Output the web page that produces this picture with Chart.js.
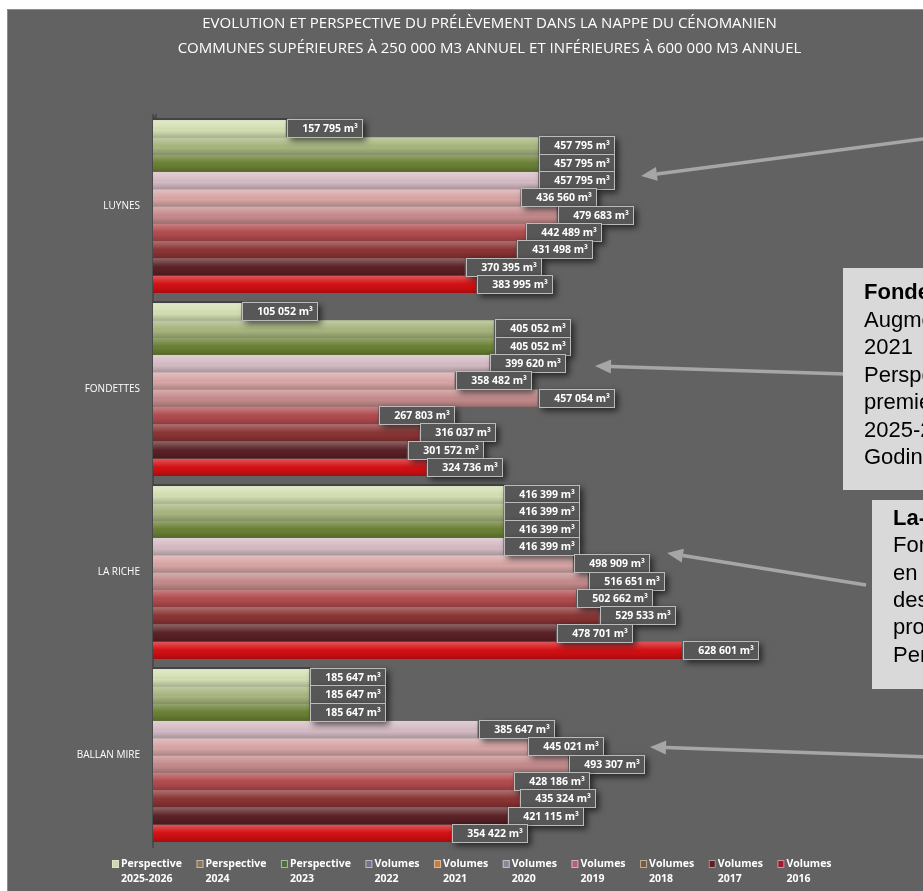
<!DOCTYPE html>
<html><head><meta charset="utf-8">
<script src="https://cdn.jsdelivr.net/npm/chart.js@4.4.1/dist/chart.umd.min.js"></script>
<style>html,body{margin:0;padding:0;background:#fff;overflow:hidden}#wrap{position:relative;width:923px;height:891px}</style>
</head><body><div id="wrap"><canvas id="c"></canvas></div>
<script>
// ---------- DATA ----------
const titleLines = ['EVOLUTION ET PERSPECTIVE DU PRÉLÈVEMENT DANS LA NAPPE DU CÉNOMANIEN',
                    'COMMUNES SUPÉRIEURES À 250 000 M3 ANNUEL ET INFÉRIEURES À 600 000 M3 ANNUEL'];
const communes = ['LUYNES', 'FONDETTES', 'LA RICHE', 'BALLAN MIRE'];
const seriesNames = [['Perspective','2025-2026'],['Perspective','2024'],['Perspective','2023'],
                     ['Volumes','2022'],['Volumes','2021'],['Volumes','2020'],['Volumes','2019'],
                     ['Volumes','2018'],['Volumes','2017'],['Volumes','2016']];
const perspective2025_2026 = [157795, 105052, 416399, 185647];
const perspective2024      = [457795, 405052, 416399, 185647];
const perspective2023      = [457795, 405052, 416399, 185647];
const volumes2022          = [457795, 399620, 416399, 385647];
const volumes2021          = [436560, 358482, 498909, 445021];
const volumes2020          = [479683, 457054, 516651, 493307];
const volumes2019          = [442489, 267803, 502662, 428186];
const volumes2018          = [431498, 316037, 529533, 435324];
const volumes2017          = [370395, 301572, 478701, 421115];
const volumes2016          = [383995, 324736, 628601, 354422];
const allSeries = [perspective2025_2026, perspective2024, perspective2023, volumes2022, volumes2021,
                   volumes2020, volumes2019, volumes2018, volumes2017, volumes2016];
const noteFondettes = ['Fondettes', 'Augmentation', '2021', 'Perspective', 'premier', '2025-2026', 'Godin'];
const noteLaRiche   = ['La-Riche', 'Forage', 'en', 'des', 'pro', 'Perspective'];

// ---------- STYLE ----------
const barColors = ['#d3dfb2','#a7b57e','#6a8034','#d4bac3','#d6a5a4','#c48a8b','#b04b4e','#8a3434','#5a2125','#d20f13'];
const swatchColors = ['#c9dca4','#8d7458','#4f6e3c','#7d6d8e','#c47c3c','#8a8699','#b5607a','#7a5a33','#5c1f24','#a01a2e'];
const BG = '#626262';

const fmt = v => String(v).replace(/\B(?=(\d{3})+(?!\d))/g, ' ') + ' m³';

const bgPlugin = {
  id: 'bg',
  beforeDraw(chart) {
    const ctx = chart.ctx;
    ctx.save();
    ctx.fillStyle = '#fff'; ctx.fillRect(0, 0, chart.width, chart.height);
    ctx.fillStyle = BG; ctx.fillRect(7, 9, chart.width - 7, chart.height - 9);
    ctx.strokeStyle = '#8c8c8c'; ctx.lineWidth = 1;
    ctx.beginPath(); ctx.moveTo(7.5, chart.height); ctx.lineTo(7.5, 9.5); ctx.lineTo(chart.width, 9.5); ctx.stroke();
    const a = chart.chartArea;
    ctx.fillStyle = '#4b4b4b';
    ctx.beginPath(); ctx.moveTo(a.left - 2, a.top + 4); ctx.lineTo(a.left + 4, a.top - 2); ctx.lineTo(a.left + 4, a.top + 4); ctx.closePath(); ctx.fill();
    ctx.restore();
  }
};

const shadePlugin = {
  id: 'shade',
  afterDatasetsDraw(chart) {
    const ctx = chart.ctx;
    ctx.save();
    chart.data.datasets.forEach((ds, di) => {
      chart.getDatasetMeta(di).data.forEach(el => {
        const p = el.getProps(['x','y','base','height'], true);
        const top = p.y - p.height / 2, bot = p.y + p.height / 2;
        const g = ctx.createLinearGradient(0, top, 0, bot);
        g.addColorStop(0, 'rgba(255,255,255,0.30)');
        g.addColorStop(0.4, 'rgba(255,255,255,0.06)');
        g.addColorStop(0.6, 'rgba(0,0,0,0)');
        g.addColorStop(1, 'rgba(0,0,0,0.20)');
        ctx.fillStyle = g;
        ctx.fillRect(p.base, top, p.x - p.base, p.height);
        if (di === 0) { // dark 3D top face of each group
          ctx.fillStyle = 'rgba(60,60,60,0.8)';
          ctx.fillRect(p.base, top - 2, p.x - p.base + 2, 2);
        }
      });
    });
    ctx.restore();
  }
};

const labelPlugin = {
  id: 'valueLabels',
  afterDatasetsDraw(chart) {
    const ctx = chart.ctx;
    ctx.save();
    ctx.font = 'bold 10.5px "Open Sans"';
    chart.data.datasets.forEach((ds, di) => {
      chart.getDatasetMeta(di).data.forEach((el, i) => {
        const p = el.getProps(['x','y'], true);
        const txt = fmt(ds.data[i]);
        const tw = ctx.measureText(txt).width;
        const bw = Math.round(tw + 20), bh = 19;
        const bx = Math.round(p.x + 1), by = Math.round(p.y - bh / 2);
        ctx.save();
        ctx.shadowColor = 'rgba(0,0,0,0.6)'; ctx.shadowBlur = 6; ctx.shadowOffsetX = 3; ctx.shadowOffsetY = 3;
        ctx.fillStyle = '#575757'; ctx.fillRect(bx, by, bw, bh);
        ctx.restore();
        ctx.strokeStyle = 'rgba(205,205,205,0.85)'; ctx.lineWidth = 1;
        ctx.strokeRect(bx + 0.5, by + 0.5, bw - 1, bh - 1);
        ctx.fillStyle = '#fff'; ctx.textAlign = 'right'; ctx.textBaseline = 'middle';
        ctx.fillText(txt, bx + bw - 5, p.y + 0.5);
      });
    });
    ctx.restore();
  }
};

const legendPlugin = {
  id: 'twoLineLegend',
  afterDraw(chart) {
    const ctx = chart.ctx;
    ctx.save();
    ctx.font = 'bold 10.5px "Open Sans"';
    ctx.textAlign = 'left'; ctx.textBaseline = 'middle';
    const y1 = 864, y2 = 879;
    let x = 112;
    seriesNames.forEach((n, i) => {
      ctx.fillStyle = swatchColors[i];
      ctx.fillRect(x, y1 - 4, 7, 8);
      ctx.strokeStyle = 'rgba(230,230,230,0.6)'; ctx.lineWidth = 1;
      ctx.strokeRect(x + 0.5, y1 - 3.5, 6, 7);
      ctx.fillStyle = '#fff';
      ctx.fillText(n[0], x + 9, y1);
      ctx.fillText(n[1], x + 9, y2);
      const w = Math.max(ctx.measureText(n[0]).width, ctx.measureText(n[1]).width);
      x += 9 + w + 14.5;
    });
    ctx.restore();
  }
};

function arrow(ctx, x1, y1, x2, y2) {
  const a = Math.atan2(y2 - y1, x2 - x1), L = 16, W = 7;
  const bx = x2 - L * Math.cos(a), by = y2 - L * Math.sin(a);
  ctx.beginPath(); ctx.moveTo(x1, y1); ctx.lineTo(bx, by); ctx.stroke();
  ctx.beginPath();
  ctx.moveTo(x2, y2);
  ctx.lineTo(bx + W * Math.sin(a), by - W * Math.cos(a));
  ctx.lineTo(bx - W * Math.sin(a), by + W * Math.cos(a));
  ctx.closePath(); ctx.fill();
}

const notePlugin = {
  id: 'notes',
  afterDraw(chart) {
    const ctx = chart.ctx;
    ctx.save();
    ctx.strokeStyle = '#a6a6a6'; ctx.fillStyle = '#a6a6a6'; ctx.lineWidth = 3.5;
    arrow(ctx, 930, 138, 641, 176);
    arrow(ctx, 845, 374, 595, 366);
    arrow(ctx, 866, 585, 667, 553);
    arrow(ctx, 930, 757, 650, 747);
    const box = (x, y, h, lines, lh, firstY) => {
      ctx.fillStyle = '#d9d9d9'; ctx.fillRect(x, y, 200, h);
      ctx.fillStyle = '#000'; ctx.textAlign = 'left'; ctx.textBaseline = 'middle';
      lines.forEach((t, i) => {
        ctx.font = (i === 0 ? 'bold ' : '') + '22px "Liberation Sans", Arial';
        ctx.fillText(t, x + 21, firstY + i * lh);
      });
    };
    box(843, 268, 222, noteFondettes, 27.5, 293);
    box(872, 500, 189, noteLaRiche, 27.3, 519);
    ctx.restore();
  }
};

new Chart(document.getElementById('c'), {
  type: 'bar',
  data: {
    labels: communes,
    datasets: allSeries.map((d, i) => ({
      label: seriesNames[i].join(' '),
      data: d,
      backgroundColor: barColors[i],
      borderWidth: 0,
      categoryPercentage: 0.945,
      barPercentage: 1.0
    }))
  },
  options: {
    indexAxis: 'y',
    responsive: true,
    maintainAspectRatio: false,
    animation: false,
    layout: { padding: { left: 56, right: 0, top: 0, bottom: 44 } },
    scales: {
      x: { display: false, min: 0, max: 915000 },
      y: {
        afterFit(scale) { scale.width = 97; },
        grid: { display: false, drawTicks: false },
        border: { display: true, color: '#4b4b4b', width: 2 },
        ticks: { color: '#ffffff', padding: 13, font: { family: '"Open Sans"', size: 10 } }
      }
    },
    plugins: {
      legend: { display: false },
      tooltip: { enabled: false },
      title: {
        display: true,
        text: titleLines,
        color: '#ffffff',
        font: { family: '"Open Sans"', size: 15, weight: 'normal', lineHeight: 25 / 15 },
        padding: { top: 11.5, bottom: 53.5 }
      }
    }
  },
  plugins: [bgPlugin, shadePlugin, labelPlugin, legendPlugin, notePlugin]
});
</script></body></html>
